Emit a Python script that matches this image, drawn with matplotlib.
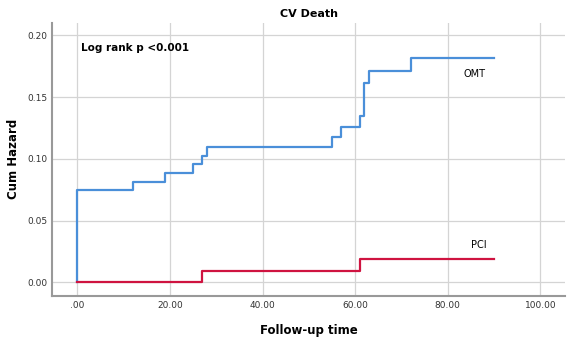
import matplotlib.pyplot as plt
from matplotlib.ticker import FuncFormatter

# step data (time, cumulative hazard)
omt_time = [0, 0, 12, 19, 25, 27, 28, 55, 57, 61, 62, 63, 72, 90]
omt_haz = [0, 0.075, 0.0815, 0.0883, 0.0956, 0.1026, 0.1099, 0.118, 0.1259, 0.1345, 0.1615, 0.1712, 0.1815, 0.1815]
pci_time = [0, 27, 61, 90]
pci_haz = [0, 0.0092, 0.0189, 0.0189]

x_ticks = [0, 20, 40, 60, 80, 100]
y_ticks = [0.0, 0.05, 0.10, 0.15, 0.20]

fig = plt.figure(figsize=(5.73, 3.38), dpi=100)
ax = fig.add_axes([0.0907, 0.125, 0.896, 0.808])

ax.step(omt_time, omt_haz, where='post', color='#4a8fd9', lw=1.6)
ax.step(pci_time, pci_haz, where='post', color='#cf1340', lw=1.6)

ax.set_xlim(-5.5, 105.4)
ax.set_ylim(-0.0109, 0.2104)
ax.set_xticks(x_ticks)
ax.set_yticks(y_ticks)
ax.xaxis.set_major_formatter(FuncFormatter(lambda v, p: ('%.2f' % v).lstrip('0') if v == 0 else '%.2f' % v))
ax.yaxis.set_major_formatter(FuncFormatter(lambda v, p: '%.2f' % v))
ax.tick_params(length=0, labelsize=6.5, colors='#333333', pad=3.5)
ax.grid(True, color='#d4d4d4', lw=0.9)
ax.set_axisbelow(True)
for s in ['top', 'right']:
    ax.spines[s].set_visible(False)
for s in ['left', 'bottom']:
    ax.spines[s].set_color('#999999')
    ax.spines[s].set_linewidth(1.5)

ax.set_title('CV Death', fontsize=8, fontweight='bold', pad=4)
ax.set_xlabel('Follow-up time', fontsize=8.5, fontweight='bold')
ax.set_ylabel('Cum Hazard', fontsize=8.5, fontweight='bold')
ax.xaxis.set_label_coords(0.5, -0.105)
ax.yaxis.set_label_coords(-0.063, 0.5)

ax.text(0.8, 0.19, 'Log rank p <0.001', fontsize=7.5, fontweight='bold', va='center')
ax.text(83.5, 0.169, 'OMT', fontsize=7, va='center')
ax.text(85, 0.030, 'PCI', fontsize=7, va='center')

fig.savefig('out.png', dpi=100)
